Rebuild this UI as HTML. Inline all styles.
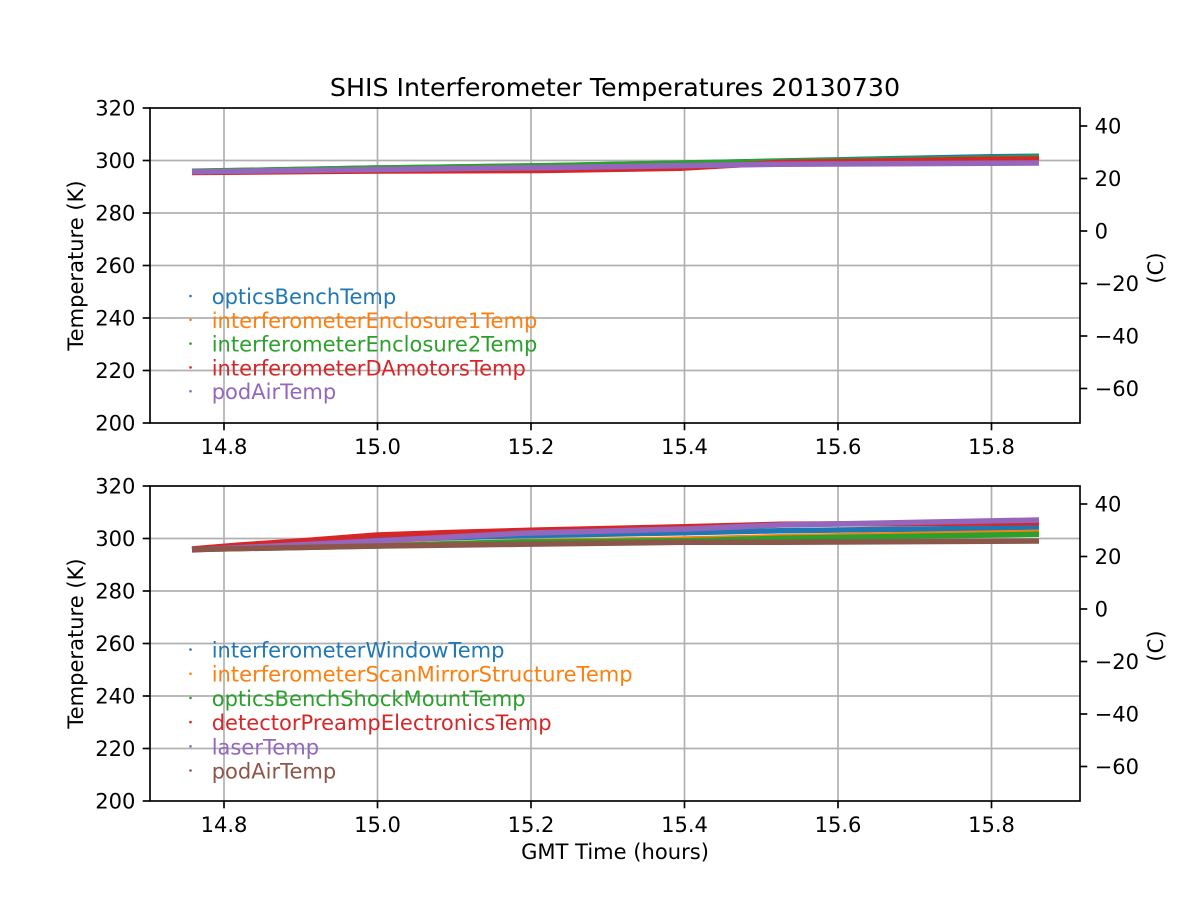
<!DOCTYPE html>
<html><head><meta charset="utf-8"><style>
html,body{margin:0;padding:0;background:#fff;}
svg{display:block;}
text{font-family:"DejaVu Sans","Liberation Sans",sans-serif;fill:#000;}
</style></head><body>
<svg width="1200" height="900" viewBox="0 0 1200 900" xmlns="http://www.w3.org/2000/svg">
<rect width="1200" height="900" fill="#fff"/>
<text x="615" y="96" font-size="25.3" text-anchor="middle">SHIS Interferometer Temperatures 20130730</text>

<!-- ===== TOP AXES ===== -->
<g stroke="#b0b0b0" stroke-width="1.67">
<line x1="224" y1="108" x2="224" y2="423"/><line x1="377.5" y1="108" x2="377.5" y2="423"/><line x1="531" y1="108" x2="531" y2="423"/><line x1="684.5" y1="108" x2="684.5" y2="423"/><line x1="838" y1="108" x2="838" y2="423"/><line x1="991.5" y1="108" x2="991.5" y2="423"/>
<line x1="150" y1="160.5" x2="1080" y2="160.5"/><line x1="150" y1="213" x2="1080" y2="213"/><line x1="150" y1="265.5" x2="1080" y2="265.5"/><line x1="150" y1="318" x2="1080" y2="318"/><line x1="150" y1="370.5" x2="1080" y2="370.5"/>
</g>
<g fill="none" stroke-width="5.5" stroke-linejoin="round">
<polyline stroke="#1f77b4" points="192,171.5 377,168 540,166 780,161 990,156.7 1039,156.3"/>
<polyline stroke="#ff7f0e" points="192,171.5 377,168.5 540,166.5 780,161.5 1039,157.5"/>
<polyline stroke="#2ca02c" points="192,171.3 377,168 540,165.7 780,161.3 1039,157.5"/>
<polyline stroke="#d62728" points="192,172.5 377,171 540,170.5 680,168.3 780,162.5 990,159.3 1039,159"/>
<polyline stroke="#9467bd" points="192,171.8 377,169.5 480,168.3 540,167.7 780,164.3 1039,163"/>
</g>
<g stroke="#000" stroke-width="1.67" fill="none">
<rect x="150" y="108" width="930" height="315"/>
<line x1="142.7" y1="108" x2="150" y2="108"/><line x1="142.7" y1="160.5" x2="150" y2="160.5"/><line x1="142.7" y1="213" x2="150" y2="213"/><line x1="142.7" y1="265.5" x2="150" y2="265.5"/><line x1="142.7" y1="318" x2="150" y2="318"/><line x1="142.7" y1="370.5" x2="150" y2="370.5"/><line x1="142.7" y1="423" x2="150" y2="423"/>
<line x1="224" y1="423" x2="224" y2="430.3"/><line x1="377.5" y1="423" x2="377.5" y2="430.3"/><line x1="531" y1="423" x2="531" y2="430.3"/><line x1="684.5" y1="423" x2="684.5" y2="430.3"/><line x1="838" y1="423" x2="838" y2="430.3"/><line x1="991.5" y1="423" x2="991.5" y2="430.3"/>
<line x1="1080" y1="126" x2="1087.3" y2="126"/><line x1="1080" y1="178.5" x2="1087.3" y2="178.5"/><line x1="1080" y1="231" x2="1087.3" y2="231"/><line x1="1080" y1="283.5" x2="1087.3" y2="283.5"/><line x1="1080" y1="336" x2="1087.3" y2="336"/><line x1="1080" y1="388.5" x2="1087.3" y2="388.5"/>
</g>
<g font-size="21.05" text-anchor="end">
<text x="135.4" y="115.5">320</text><text x="135.4" y="168">300</text><text x="135.4" y="220.5">280</text><text x="135.4" y="273">260</text><text x="135.4" y="325.5">240</text><text x="135.4" y="378">220</text><text x="135.4" y="430.5">200</text>
</g>
<g font-size="21.05" text-anchor="middle">
<text x="224" y="454">14.8</text><text x="377.5" y="454">15.0</text><text x="531" y="454">15.2</text><text x="684.5" y="454">15.4</text><text x="838" y="454">15.6</text><text x="991.5" y="454">15.8</text>
</g>
<g font-size="21.05">
<text x="1094.6" y="133.5">40</text><text x="1094.6" y="186">20</text><text x="1094.6" y="238.5">0</text><text x="1094.6" y="291">−20</text><text x="1094.6" y="343.5">−40</text><text x="1094.6" y="396">−60</text>
</g>
<text font-size="21.05" text-anchor="middle" transform="translate(83,265.5) rotate(-90)">Temperature (K)</text>
<text font-size="21.05" text-anchor="middle" transform="translate(1163,268) rotate(-90)">(C)</text>
<!-- top legend -->
<g font-size="21.05">
<circle cx="190.5" cy="296" r="1.3" fill="#1f77b4"/><text x="211.7" y="304" style="fill:#1f77b4">opticsBenchTemp</text>
<circle cx="190.5" cy="319.8" r="1.3" fill="#ff7f0e"/><text x="211.7" y="327.8" style="fill:#ff7f0e">interferometerEnclosure1Temp</text>
<circle cx="190.5" cy="343.6" r="1.3" fill="#2ca02c"/><text x="211.7" y="351.6" style="fill:#2ca02c">interferometerEnclosure2Temp</text>
<circle cx="190.5" cy="367.4" r="1.3" fill="#d62728"/><text x="211.7" y="375.4" style="fill:#d62728">interferometerDAmotorsTemp</text>
<circle cx="190.5" cy="391.2" r="1.3" fill="#9467bd"/><text x="211.7" y="399.2" style="fill:#9467bd">podAirTemp</text>
</g>

<!-- ===== BOTTOM AXES ===== -->
<g stroke="#b0b0b0" stroke-width="1.67">
<line x1="224" y1="486" x2="224" y2="801"/><line x1="377.5" y1="486" x2="377.5" y2="801"/><line x1="531" y1="486" x2="531" y2="801"/><line x1="684.5" y1="486" x2="684.5" y2="801"/><line x1="838" y1="486" x2="838" y2="801"/><line x1="991.5" y1="486" x2="991.5" y2="801"/>
<line x1="150" y1="538.5" x2="1080" y2="538.5"/><line x1="150" y1="591" x2="1080" y2="591"/><line x1="150" y1="643.5" x2="1080" y2="643.5"/><line x1="150" y1="696" x2="1080" y2="696"/><line x1="150" y1="748.5" x2="1080" y2="748.5"/>
</g>
<g fill="none" stroke-width="5.5" stroke-linejoin="round">
<polyline stroke="#1f77b4" points="192,549.5 377,540 520,535.7 685,532.7 780,530.7 1039,527.7"/>
<polyline stroke="#ff7f0e" points="192,549.5 377,545.5 520,541.7 685,539 780,536.7 1039,532.3"/>
<polyline stroke="#2ca02c" points="192,549.5 377,546 520,542 685,540.7 780,538.3 1039,534.3"/>
<polyline stroke="#d62728" points="192,549 240,545 300,541 377,535 450,532.5 540,530 685,526.7 780,524.3 1039,522.7"/>
<polyline stroke="#9467bd" points="192,550 377,541 520,533.3 685,529 780,525 1039,520"/>
<polyline stroke="#8c564b" points="192,549.5 377,546 520,544.3 685,542.3 780,542.3 1039,541"/>
</g>
<g stroke="#000" stroke-width="1.67" fill="none">
<rect x="150" y="486" width="930" height="315"/>
<line x1="142.7" y1="486" x2="150" y2="486"/><line x1="142.7" y1="538.5" x2="150" y2="538.5"/><line x1="142.7" y1="591" x2="150" y2="591"/><line x1="142.7" y1="643.5" x2="150" y2="643.5"/><line x1="142.7" y1="696" x2="150" y2="696"/><line x1="142.7" y1="748.5" x2="150" y2="748.5"/><line x1="142.7" y1="801" x2="150" y2="801"/>
<line x1="224" y1="801" x2="224" y2="808.3"/><line x1="377.5" y1="801" x2="377.5" y2="808.3"/><line x1="531" y1="801" x2="531" y2="808.3"/><line x1="684.5" y1="801" x2="684.5" y2="808.3"/><line x1="838" y1="801" x2="838" y2="808.3"/><line x1="991.5" y1="801" x2="991.5" y2="808.3"/>
<line x1="1080" y1="504" x2="1087.3" y2="504"/><line x1="1080" y1="556.5" x2="1087.3" y2="556.5"/><line x1="1080" y1="609" x2="1087.3" y2="609"/><line x1="1080" y1="661.5" x2="1087.3" y2="661.5"/><line x1="1080" y1="714" x2="1087.3" y2="714"/><line x1="1080" y1="766.5" x2="1087.3" y2="766.5"/>
</g>
<g font-size="21.05" text-anchor="end">
<text x="135.4" y="493.5">320</text><text x="135.4" y="546">300</text><text x="135.4" y="598.5">280</text><text x="135.4" y="651">260</text><text x="135.4" y="703.5">240</text><text x="135.4" y="756">220</text><text x="135.4" y="808.5">200</text>
</g>
<g font-size="21.05" text-anchor="middle">
<text x="224" y="832">14.8</text><text x="377.5" y="832">15.0</text><text x="531" y="832">15.2</text><text x="684.5" y="832">15.4</text><text x="838" y="832">15.6</text><text x="991.5" y="832">15.8</text>
</g>
<g font-size="21.05">
<text x="1094.6" y="511.5">40</text><text x="1094.6" y="564">20</text><text x="1094.6" y="616.5">0</text><text x="1094.6" y="669">−20</text><text x="1094.6" y="721.5">−40</text><text x="1094.6" y="774">−60</text>
</g>
<text font-size="21.05" text-anchor="middle" transform="translate(83,643.5) rotate(-90)">Temperature (K)</text>
<text font-size="21.05" text-anchor="middle" transform="translate(1163,646) rotate(-90)">(C)</text>
<text font-size="21.05" text-anchor="middle" x="615" y="859">GMT Time (hours)</text>
<!-- bottom legend -->
<g font-size="21.05">
<circle cx="190.5" cy="649.5" r="1.3" fill="#1f77b4"/><text x="211.7" y="657.5" style="fill:#1f77b4">interferometerWindowTemp</text>
<circle cx="190.5" cy="673.7" r="1.3" fill="#ff7f0e"/><text x="211.7" y="681.7" style="fill:#ff7f0e">interferometerScanMirrorStructureTemp</text>
<circle cx="190.5" cy="697.9" r="1.3" fill="#2ca02c"/><text x="211.7" y="705.9" style="fill:#2ca02c">opticsBenchShockMountTemp</text>
<circle cx="190.5" cy="722.1" r="1.3" fill="#d62728"/><text x="211.7" y="730.1" style="fill:#d62728">detectorPreampElectronicsTemp</text>
<circle cx="190.5" cy="746.3" r="1.3" fill="#9467bd"/><text x="211.7" y="754.3" style="fill:#9467bd">laserTemp</text>
<circle cx="190.5" cy="770.5" r="1.3" fill="#8c564b"/><text x="211.7" y="778.5" style="fill:#8c564b">podAirTemp</text>
</g>
</svg>
</body></html>
